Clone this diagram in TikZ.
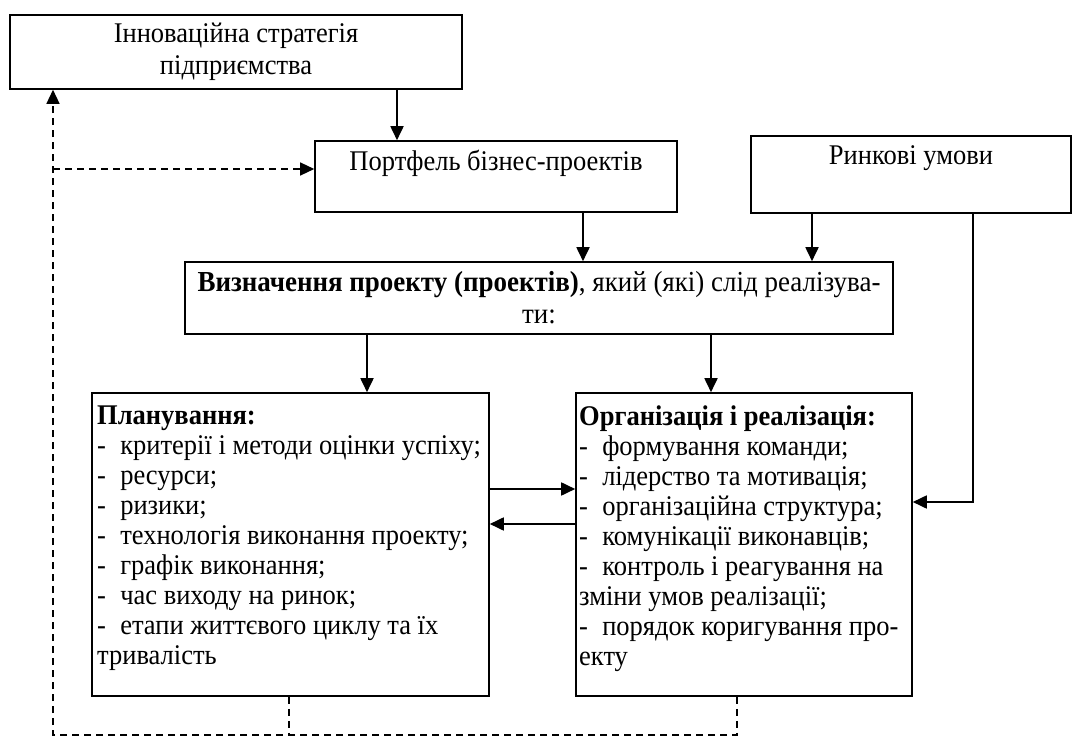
\documentclass[tikz,border=0pt]{standalone}
\usepackage{fontspec}
\setmainfont[FakeStretch=0.93]{Liberation Serif}
\usetikzlibrary{arrows.meta}
\begin{document}
\begin{tikzpicture}[x=1pt,y=-1pt,
  box/.style={draw, line width=1.6pt, inner sep=0pt, anchor=center},
  arr/.style={line width=1.8pt, -{Triangle[length=14pt,width=13pt]}},
  darr/.style={line width=1.4pt, dash pattern=on 7pt off 5pt, -{Triangle[length=14pt,width=13pt]}},
  dline/.style={line width=1.4pt, dash pattern=on 7pt off 5pt},
  txt/.style={inner sep=0pt, font=\fontsize{28.5}{30}\selectfont}]
\useasboundingbox (0,0) rectangle (1072,738);

% boxes
\node[box, minimum width=452pt, minimum height=74pt, align=center, font=\fontsize{28.5}{32}\selectfont] (strat) at (236,52) {Інноваційна стратегія\\підприємства};
\node[box, minimum width=362pt, minimum height=71pt] (port) at (496,176.5) {};
\node[box, minimum width=320pt, minimum height=77pt] (market) at (911,174.5) {};
\node[box, minimum width=708pt, minimum height=72pt, align=center, font=\fontsize{29}{32}\selectfont] (def) at (539,298) {\textbf{Визначення проекту (проектів)}, який (які) слід реалізува-\\ти:};
\node[box, minimum width=397pt, minimum height=303pt] (plan) at (290.5,544.5) {};
\node[box, minimum width=336pt, minimum height=303pt] (org) at (744,544.5) {};

% texts
\node[txt, anchor=base] (porttext) at (496,171) {Портфель бізнес-проектів};
\node[txt, anchor=base] (markettext) at (911,165) {Ринкові умови};
\node[txt, anchor=north west, align=left] (plantext) at (97,406) {\textbf{Планування:}\\
-\enspace критерії і методи оцінки успіху;\\
-\enspace ресурси;\\
-\enspace ризики;\\
-\enspace технологія виконання проекту;\\
-\enspace графік виконання;\\
-\enspace час виходу на ринок;\\
-\enspace етапи життєвого циклу та їх\\
тривалість};
\node[txt, anchor=north west, align=left] (orgtext) at (579,406) {\textbf{Організація і реалізація:}\\
-\enspace формування команди;\\
-\enspace лідерство та мотивація;\\
-\enspace організаційна структура;\\
-\enspace комунікації виконавців;\\
-\enspace контроль і реагування на\\
зміни умов реалізації;\\
-\enspace порядок коригування про-\\
екту};

% connector helpers
\coordinate (xa) at (397,0);
\coordinate (xb) at (583,0);
\coordinate (xc) at (812,0);
\coordinate (xd) at (367,0);
\coordinate (xe) at (711,0);
\coordinate (h1) at (0,489);
\coordinate (h2) at (0,524);
\coordinate (mr) at (973,502);
\coordinate (dl) at (53,735);
\coordinate (dp) at (289,735);
\coordinate (do) at (737,735);
\coordinate (dy) at (53,169);

% solid connectors
\draw[arr] (strat.south -| xa) -- (port.north -| xa);
\draw[arr] (port.south -| xb) -- (def.north -| xb);
\draw[arr] (market.south -| xc) -- (def.north -| xc);
\draw[arr] (def.south -| xd) -- (plan.north -| xd);
\draw[arr] (def.south -| xe) -- (org.north -| xe);
\draw[arr] (plan.east |- h1) -- (org.west |- h1);
\draw[arr] (org.west |- h2) -- (plan.east |- h2);
\draw[arr] (market.south -| mr) -- (mr) -- (org.east |- mr);

% dashed feedback
\draw[dline] (plan.south -| dp) -- (dp);
\draw[darr] (org.south -| do) -- (do) -- (dl) -- (strat.south -| dl);
\draw[darr] (dy) -- (port.west |- dy);
\end{tikzpicture}
\end{document}
